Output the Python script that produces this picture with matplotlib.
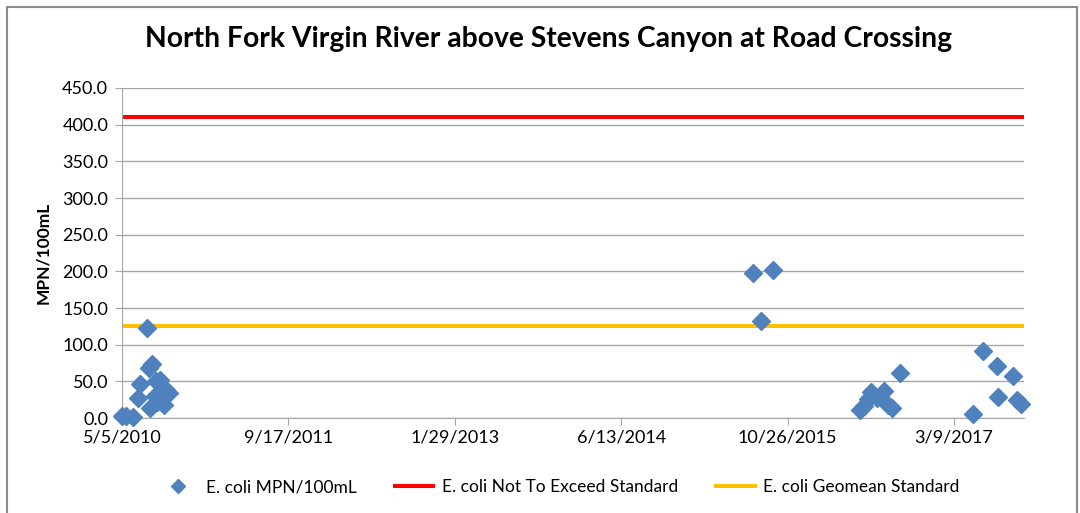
import numpy as np
import pandas as pd
import matplotlib
matplotlib.use('Agg')
import matplotlib.pyplot as plt
from matplotlib.patches import Rectangle

# E. coli samples (date, MPN/100mL)
sample_dates = [
    '2010-05-05', '2010-05-17', '2010-06-07', '2010-06-22', '2010-06-28',
    '2010-07-19', '2010-07-25', '2010-07-28', '2010-08-03', '2010-08-12',
    '2010-08-15', '2010-08-18', '2010-08-27', '2010-08-30', '2010-09-02',
    '2010-09-08', '2010-09-14', '2010-09-23',
    '2015-07-14', '2015-08-07', '2015-09-12',
    '2016-05-31', '2016-06-12', '2016-06-24', '2016-07-03', '2016-07-21',
    '2016-08-11', '2016-08-23', '2016-09-04', '2016-09-28',
    '2017-05-05', '2017-06-04', '2017-07-16', '2017-07-19', '2017-09-02',
    '2017-09-14', '2017-09-26',
]
ecoli = [
    3, 3, 2, 27, 46,
    123, 68, 14, 74, 30,
    50, 22, 52, 30, 42,
    18, 38, 34,
    198, 132, 202,
    11, 16, 26, 36, 28,
    37, 18, 14, 61,
    5, 91, 71, 29, 58,
    24, 19,
]

not_to_exceed = 410.0
geomean_std = 126.0

axis_start = '2010-05-05'
axis_end = '2017-10-05'
tick_step_days = 500

y_ticks = np.arange(0, 451, 50)

plt.rcParams['font.family'] = ['Lato', 'DejaVu Sans']

fig = plt.figure(figsize=(10.8, 5.13), dpi=100)
fig.patches.append(Rectangle((7 / 1080, -0.05), 1070 / 1080, 1 - 7 / 513 + 0.05,
                             transform=fig.transFigure, fill=False,
                             edgecolor='#8c8c8c', linewidth=1.5))

ax = fig.add_axes([0.113, 0.185, 0.835, 0.6435])

x = pd.to_datetime(sample_dates)
x0 = pd.Timestamp(axis_start)
x1 = pd.Timestamp(axis_end)

ax.axhline(not_to_exceed, color='#ff0000', linewidth=2.9, zorder=2,
           label='E. coli Not To Exceed Standard')
ax.axhline(geomean_std, color='#ffc000', linewidth=2.9, zorder=2,
           label='E. coli Geomean Standard')
ax.plot(x, ecoli, linestyle='none', marker='D', markersize=9.5,
        color='#4f81bd', markeredgecolor='#4f81bd', zorder=3, clip_on=False,
        label='E. coli MPN/100mL')

ax.set_xlim(x0, x1)
ax.set_ylim(0, 450)

ticks = [x0 + pd.Timedelta(days=tick_step_days * k) for k in range(6)]
ax.set_xticks(ticks)
ax.set_xticklabels([f'{t.month}/{t.day}/{t.year}' for t in ticks], fontsize=13)
ax.set_yticks(y_ticks)
ax.set_yticklabels([f'{v:.1f}' for v in y_ticks], fontsize=13)

ax.grid(axis='y', color='#a6a6a6', linewidth=1)
ax.set_axisbelow(True)
for s in ['top', 'right']:
    ax.spines[s].set_visible(False)
for s in ['left', 'bottom']:
    ax.spines[s].set_color('#a6a6a6')
ax.tick_params(axis='both', colors='#a6a6a6', labelcolor='black', length=5)
ax.tick_params(axis='y', pad=5)
ax.tick_params(axis='x', pad=3)

ax.set_ylabel('MPN/100mL', fontsize=12.5, fontweight='bold', labelpad=8)
fig.suptitle('North Fork Virgin River above Stevens Canyon at Road Crossing',
             x=0.508, y=0.95, fontsize=20.3, fontweight='bold')

handles, labels = ax.get_legend_handles_labels()
order = [2, 0, 1]
leg = fig.legend([handles[i] for i in order], [labels[i] for i in order],
                 loc='center', bbox_to_anchor=(0.518, 0.05), ncol=3,
                 frameon=False, fontsize=12.5, columnspacing=2.2,
                 handlelength=2.2, handletextpad=0.5, markerscale=0.8)

plt.savefig('out.png', dpi=100)
